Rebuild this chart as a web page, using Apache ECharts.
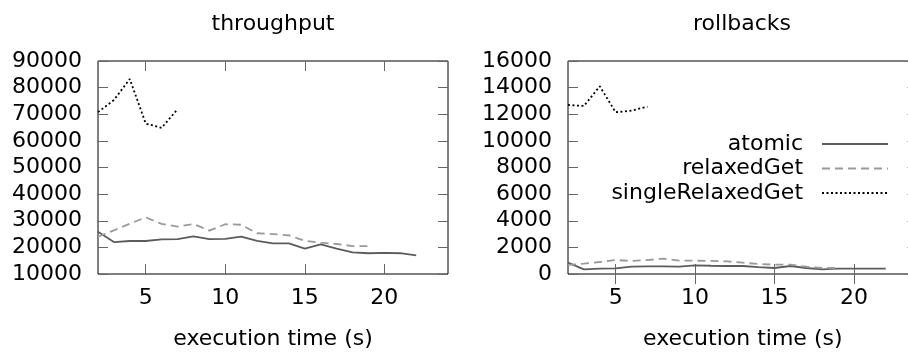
<!DOCTYPE html>
<html><head><meta charset="utf-8">
<script src="https://cdn.jsdelivr.net/npm/echarts@6/dist/echarts.min.js"></script>
<style>html,body{margin:0;padding:0;background:#fff}#c{width:908px;height:352px}</style>
</head><body><div id="c"></div>
<script>
// ---- data ----
const titles = ['throughput', 'rollbacks'];
const seriesNames = ['atomic', 'relaxedGet', 'singleRelaxedGet'];
const xTicks = [5, 10, 15, 20];
const xAtomic = [2,3,4,5,6,7,8,9,10,11,12,13,14,15,16,17,18,19,20,21,22];
const xRelaxed = [2,3,4,5,6,7,8,9,10,11,12,13,14,15,16,17,18,19];
const xSingle = [2,3,4,5,6,7];
const tpAtomic = [25900,22000,22400,22400,23000,23100,24150,23100,23200,24000,22400,21500,21500,19500,21150,19500,18150,17800,17900,17800,17000];
const tpRelaxed = [24000,26400,28900,31300,28800,27800,28800,26300,28700,28500,25300,25000,24500,22500,21750,21270,20500,20500];
const tpSingle = [70800,75350,83240,66500,64900,71900];
const rbAtomic = [850,350,400,430,550,580,580,550,650,620,600,600,520,450,600,450,350,400,400,400,400];
const rbRelaxed = [680,780,900,1050,980,1050,1150,1000,1000,980,950,850,750,700,700,550,450,450];
const rbSingle = [12700,12620,14100,12150,12270,12570];

const FONT = 'DejaVu Sans';
const pair = (xs, ys) => xs.map((x, i) => [x, ys[i]]);
const styles = [
  {color: '#5c5c5c', width: 1.8, type: 'solid'},
  {color: '#9a9a9a', width: 1.8, type: [8, 5]},
  {color: '#000000', width: 1.8, type: [2, 2.5]}
];
const grids = [
  {left: 98, right: 460, top: 61, bottom: 78, outerBoundsMode: 'none', containLabel: false, show: true, borderColor: '#000', borderWidth: 1, backgroundColor: 'transparent'},
  {left: 568, right: -9.5, top: 61, bottom: 78, outerBoundsMode: 'none', containLabel: false, show: true, borderColor: '#000', borderWidth: 1, backgroundColor: 'transparent'}
];
const yRanges = [{min: 10000, max: 90000, interval: 10000}, {min: 0, max: 16000, interval: 2000}];
const tickStyle = {show: true, inside: true, length: 10, lineStyle: {color: '#666', width: 1}};
const plain = v => String(v);

const xAxes = [], yAxes = [];
[0, 1].forEach(g => {
  xAxes.push({
    type: 'value', gridIndex: g, position: 'bottom', min: 2, max: 24,
    name: 'execution time (s)', nameLocation: 'middle', nameGap: 54,
    nameTextStyle: {fontFamily: FONT, fontSize: 22, color: '#000'},
    axisLine: {show: false},
    axisTick: Object.assign({customValues: xTicks}, tickStyle),
    axisLabel: {customValues: xTicks, formatter: plain, fontFamily: FONT, fontSize: 22, color: '#000', margin: 13},
    splitLine: {show: false}
  });
  xAxes.push({
    type: 'value', gridIndex: g, position: 'top', min: 2, max: 24,
    axisLine: {show: false},
    axisTick: Object.assign({customValues: xTicks}, tickStyle),
    axisLabel: {show: false}, splitLine: {show: false}
  });
  yAxes.push(Object.assign({
    type: 'value', gridIndex: g, position: 'left',
    axisLine: {show: false}, axisTick: tickStyle,
    axisLabel: {formatter: plain, fontFamily: FONT, fontSize: 22, color: '#000', margin: 16},
    splitLine: {show: false}
  }, yRanges[g]));
  yAxes.push(Object.assign({
    type: 'value', gridIndex: g, position: 'right',
    axisLine: {show: false}, axisTick: tickStyle,
    axisLabel: {show: false}, splitLine: {show: false}
  }, yRanges[g]));
});

const dataSets = [
  [pair(xAtomic, tpAtomic), pair(xRelaxed, tpRelaxed), pair(xSingle, tpSingle)],
  [pair(xAtomic, rbAtomic), pair(xRelaxed, rbRelaxed), pair(xSingle, rbSingle)]
];
const series = [];
[0, 1].forEach(g => {
  seriesNames.forEach((n, i) => {
    series.push({
      name: n, type: 'line', xAxisIndex: g * 2, yAxisIndex: g * 2,
      data: dataSets[g][i], symbol: 'none', showSymbol: false, animation: false,
      lineStyle: styles[i], itemStyle: {color: styles[i].color}
    });
  });
});

const chart = echarts.init(document.getElementById('c'), null, {renderer: 'canvas'});
chart.setOption({
  animation: false,
  backgroundColor: '#fff',
  grid: grids,
  xAxis: xAxes,
  yAxis: yAxes,
  legend: {
    data: seriesNames, orient: 'vertical', align: 'right', right: 14, top: 128,
    itemWidth: 66, itemHeight: 14, itemGap: 2.5, selectedMode: false,
    itemStyle: {opacity: 0},
    formatter: n => n + '  ',
    textStyle: {fontFamily: FONT, fontSize: 22, color: '#000', lineHeight: 22}
  },
  graphic: titles.map((t, g) => ({
    type: 'text', x: g === 0 ? 273 : 742, y: 24,
    style: {text: t, fontFamily: FONT, fontSize: 22, fill: '#000', align: 'center', verticalAlign: 'middle'}
  })),
  series: series
});
</script></body></html>
